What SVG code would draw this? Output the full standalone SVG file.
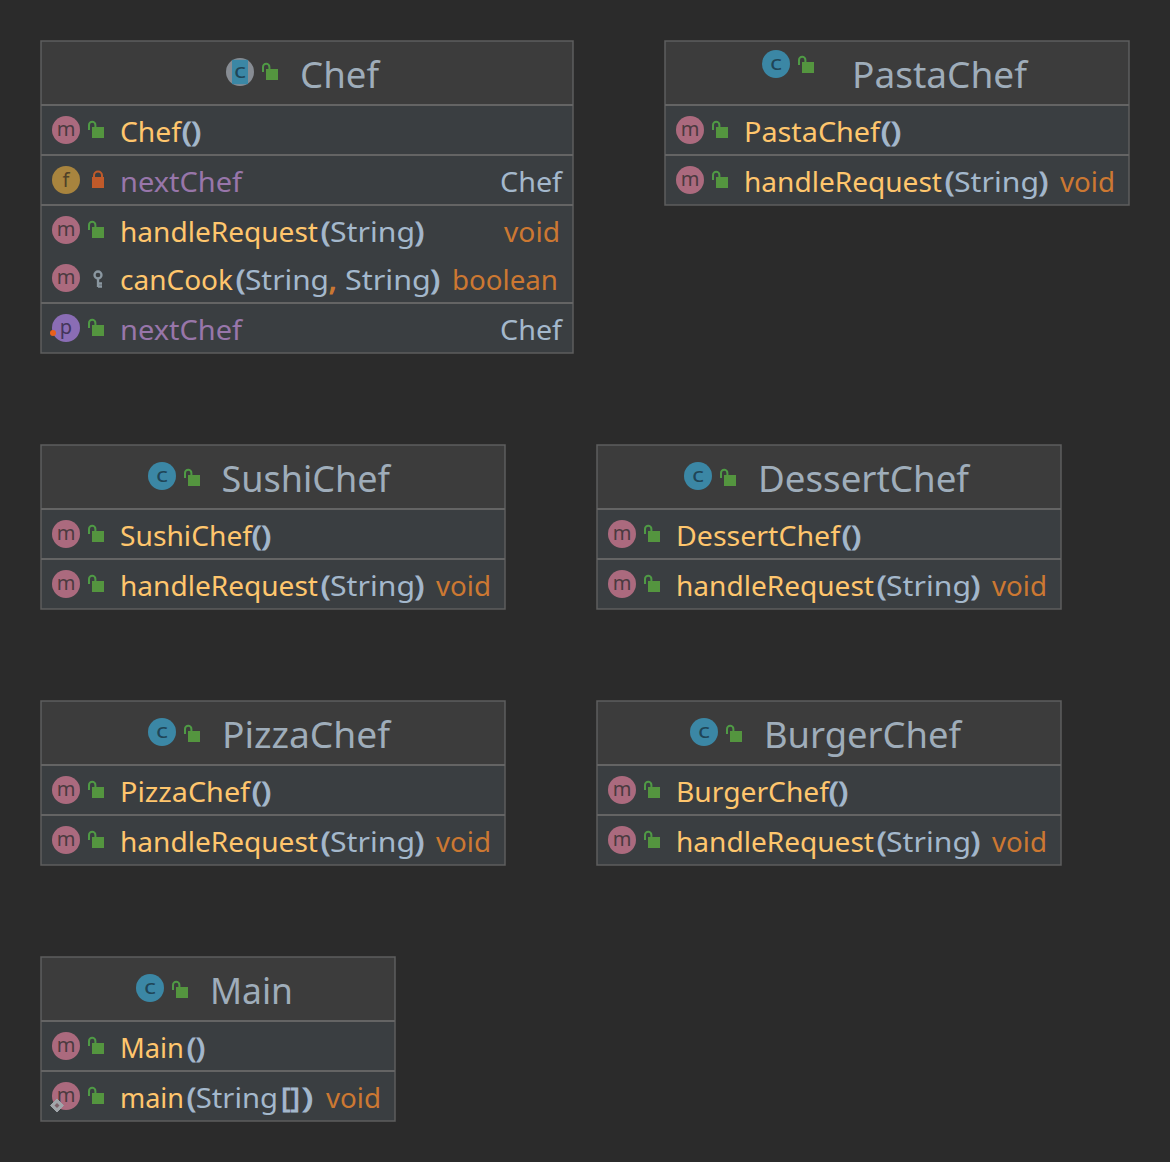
<svg xmlns="http://www.w3.org/2000/svg" width="1170" height="1162" viewBox="0 0 1170 1162">
<style>
text{font-family:"Noto Sans","Open Sans",sans-serif;font-size:28px;white-space:pre}
.box{fill:#3a3e41;stroke:#5e5e5e;stroke-width:1.500}
.head{fill:#3c3c3c}
.div{stroke:#646464;stroke-width:1.800}
.title{font-size:36px;fill:#9fadba}
.m{fill:#ffc66d}.t{fill:#a4b8cc}.r{fill:#cc7832}.f{fill:#9876aa}
.b{stroke:#a4b8cc;stroke-width:.9}
.rb{stroke:#cc7832;stroke-width:1.200}
.ic{font-size:20px;text-anchor:middle}
</style>
<defs>
<g id="pub"><path d="M-7 0V-5a3.200 3.200 0 0 1 6.400 0v3" fill="none" stroke="#4f9a45" stroke-width="2"/><rect x="-4" y="-3" width="12" height="11" fill="#54953f"/></g>
<g id="cls"><circle r="14" fill="#3b87a5"/><text class="ic" y="6" fill="#1f4557" textLength="12" lengthAdjust="spacingAndGlyphs">c</text></g>
<g id="mth"><circle r="14" fill="#ab6a7e"/><text class="ic" y="6" fill="#4b3a40">m</text></g>
</defs>
<rect width="1170" height="1162" fill="#2b2b2b"/>
<g id="connectors"/>

<g id="Chef">
<rect class="box" x="41" y="41" width="532" height="312"/>
<rect class="head" x="42" y="42" width="530" height="63"/>
<path class="div" d="M41 105H573M41 155H573M41 205H573M41 303H573"/>
<circle cx="240" cy="72" r="14" fill="#878c93"/><path d="M232 59.800h16v24.400h-16z" fill="#3b87a5"/><text class="ic" x="240" y="78" fill="#1f4557" textLength="12" lengthAdjust="spacingAndGlyphs">c</text>
<use href="#pub" x="270" y="72"/>
<text class="title" x="300" y="88" textLength="79" lengthAdjust="spacingAndGlyphs">Chef</text>
<use href="#mth" x="66" y="130"/><use href="#pub" x="96" y="130"/>
<text class="m" x="120" y="141.500" textLength="61" lengthAdjust="spacingAndGlyphs">Chef</text><text class="t b" x="182" y="141.500" textLength="19" lengthAdjust="spacingAndGlyphs">()</text>
<circle cx="66" cy="180" r="14" fill="#a8843e"/><text class="ic" x="66" y="187" fill="#4f4128">f</text>
<path d="M94 178v-2.500a4 4 0 0 1 8 0v2.500" fill="none" stroke="#c05a2a" stroke-width="2"/><rect x="92" y="177" width="12" height="11" fill="#c05a2a"/>
<text class="f" x="120" y="191.500" textLength="122" lengthAdjust="spacingAndGlyphs">nextChef</text>
<text class="t" x="500" y="191.500" textLength="62" lengthAdjust="spacingAndGlyphs">Chef</text>
<use href="#mth" x="66" y="230"/><use href="#pub" x="96" y="230"/>
<text class="m" x="120" y="241.500" textLength="198" lengthAdjust="spacingAndGlyphs">handleRequest</text><text class="t" x="321" y="241.500" textLength="103" lengthAdjust="spacingAndGlyphs"><tspan class="b">(</tspan>String<tspan class="b">)</tspan></text>
<text class="r" x="504" y="241.500" textLength="56" lengthAdjust="spacingAndGlyphs">void</text>
<use href="#mth" x="66" y="278"/>
<g fill="none" stroke="#8a97a0" stroke-width="2.300"><circle cx="98" cy="275" r="3.500"/><path d="M98 279V287M98 283.500H102M98 286.500H102"/></g>
<text class="m" x="120" y="289.500" textLength="113" lengthAdjust="spacingAndGlyphs">canCook</text>
<text class="t" x="236" y="289.500" textLength="93" lengthAdjust="spacingAndGlyphs"><tspan class="b">(</tspan>String</text><text class="r rb" x="329" y="289.500">,</text><text class="t" x="345" y="289.500" textLength="95" lengthAdjust="spacingAndGlyphs">String<tspan class="b">)</tspan></text>
<text class="r" x="452" y="289.500" textLength="106" lengthAdjust="spacingAndGlyphs">boolean</text>
<circle cx="66" cy="328" r="14" fill="#8a6db5"/><text class="ic" x="66" y="334" fill="#43355a">p</text><circle cx="53" cy="333" r="3" fill="#e8601c"/>
<use href="#pub" x="96" y="328"/>
<text class="f" x="120" y="339.500" textLength="122" lengthAdjust="spacingAndGlyphs">nextChef</text>
<text class="t" x="500" y="339.500" textLength="62" lengthAdjust="spacingAndGlyphs">Chef</text>
</g>

<g id="PastaChef">
<rect class="box" x="665" y="41" width="464" height="164"/>
<rect class="head" x="666" y="42" width="462" height="63"/>
<path class="div" d="M665 105H1129M665 155H1129"/>
<use href="#cls" x="776" y="64"/><use href="#pub" x="806" y="65"/>
<text class="title" x="852" y="88" textLength="175" lengthAdjust="spacingAndGlyphs">PastaChef</text>
<use href="#mth" x="690" y="130"/><use href="#pub" x="720" y="130"/>
<text class="m" x="744" y="141.500" textLength="136" lengthAdjust="spacingAndGlyphs">PastaChef</text><text class="t b" x="881" y="141.500" textLength="20" lengthAdjust="spacingAndGlyphs">()</text>
<use href="#mth" x="690" y="180"/><use href="#pub" x="720" y="180"/>
<text class="m" x="744" y="191.500" textLength="198" lengthAdjust="spacingAndGlyphs">handleRequest</text><text class="t" x="945" y="191.500" textLength="103" lengthAdjust="spacingAndGlyphs"><tspan class="b">(</tspan>String<tspan class="b">)</tspan></text>
<text class="r" x="1060" y="191.500" textLength="55" lengthAdjust="spacingAndGlyphs">void</text>
</g>

<g id="SushiChef">
<rect class="box" x="41" y="445" width="464" height="164"/>
<rect class="head" x="42" y="446" width="462" height="63"/>
<path class="div" d="M41 509H505M41 559H505"/>
<use href="#cls" x="162" y="476"/><use href="#pub" x="192" y="478"/>
<text class="title" x="221.500" y="492" textLength="168.500" lengthAdjust="spacingAndGlyphs">SushiChef</text>
<use href="#mth" x="66" y="534"/><use href="#pub" x="96" y="534"/>
<text class="m" x="120" y="545.500" textLength="132" lengthAdjust="spacingAndGlyphs">SushiChef</text><text class="t b" x="252" y="545.500" textLength="19" lengthAdjust="spacingAndGlyphs">()</text>
<use href="#mth" x="66" y="584"/><use href="#pub" x="96" y="584"/>
<text class="m" x="120" y="595.500" textLength="198" lengthAdjust="spacingAndGlyphs">handleRequest</text><text class="t" x="321" y="595.500" textLength="103" lengthAdjust="spacingAndGlyphs"><tspan class="b">(</tspan>String<tspan class="b">)</tspan></text>
<text class="r" x="436" y="595.500" textLength="55" lengthAdjust="spacingAndGlyphs">void</text>
</g>

<g id="DessertChef">
<rect class="box" x="597" y="445" width="464" height="164"/>
<rect class="head" x="598" y="446" width="462" height="63"/>
<path class="div" d="M597 509H1061M597 559H1061"/>
<use href="#cls" x="698" y="476"/><use href="#pub" x="728" y="478"/>
<text class="title" x="758" y="492" textLength="211" lengthAdjust="spacingAndGlyphs">DessertChef</text>
<use href="#mth" x="622" y="534"/><use href="#pub" x="652" y="534"/>
<text class="m" x="676" y="545.500" textLength="164" lengthAdjust="spacingAndGlyphs">DessertChef</text><text class="t b" x="842" y="545.500" textLength="19" lengthAdjust="spacingAndGlyphs">()</text>
<use href="#mth" x="622" y="584"/><use href="#pub" x="652" y="584"/>
<text class="m" x="676" y="595.500" textLength="198" lengthAdjust="spacingAndGlyphs">handleRequest</text><text class="t" x="877" y="595.500" textLength="103" lengthAdjust="spacingAndGlyphs"><tspan class="b">(</tspan>String<tspan class="b">)</tspan></text>
<text class="r" x="992" y="595.500" textLength="55" lengthAdjust="spacingAndGlyphs">void</text>
</g>

<g id="PizzaChef">
<rect class="box" x="41" y="701" width="464" height="164"/>
<rect class="head" x="42" y="702" width="462" height="63"/>
<path class="div" d="M41 765H505M41 815H505"/>
<use href="#cls" x="162" y="732"/><use href="#pub" x="192" y="734"/>
<text class="title" x="222" y="748" textLength="168" lengthAdjust="spacingAndGlyphs">PizzaChef</text>
<use href="#mth" x="66" y="790"/><use href="#pub" x="96" y="790"/>
<text class="m" x="120" y="801.500" textLength="130" lengthAdjust="spacingAndGlyphs">PizzaChef</text><text class="t b" x="252" y="801.500" textLength="19" lengthAdjust="spacingAndGlyphs">()</text>
<use href="#mth" x="66" y="840"/><use href="#pub" x="96" y="840"/>
<text class="m" x="120" y="851.500" textLength="198" lengthAdjust="spacingAndGlyphs">handleRequest</text><text class="t" x="321" y="851.500" textLength="103" lengthAdjust="spacingAndGlyphs"><tspan class="b">(</tspan>String<tspan class="b">)</tspan></text>
<text class="r" x="436" y="851.500" textLength="55" lengthAdjust="spacingAndGlyphs">void</text>
</g>

<g id="BurgerChef">
<rect class="box" x="597" y="701" width="464" height="164"/>
<rect class="head" x="598" y="702" width="462" height="63"/>
<path class="div" d="M597 765H1061M597 815H1061"/>
<use href="#cls" x="704" y="732"/><use href="#pub" x="734" y="734"/>
<text class="title" x="764" y="748" textLength="197" lengthAdjust="spacingAndGlyphs">BurgerChef</text>
<use href="#mth" x="622" y="790"/><use href="#pub" x="652" y="790"/>
<text class="m" x="676" y="801.500" textLength="153" lengthAdjust="spacingAndGlyphs">BurgerChef</text><text class="t b" x="829" y="801.500" textLength="19" lengthAdjust="spacingAndGlyphs">()</text>
<use href="#mth" x="622" y="840"/><use href="#pub" x="652" y="840"/>
<text class="m" x="676" y="851.500" textLength="198" lengthAdjust="spacingAndGlyphs">handleRequest</text><text class="t" x="877" y="851.500" textLength="103" lengthAdjust="spacingAndGlyphs"><tspan class="b">(</tspan>String<tspan class="b">)</tspan></text>
<text class="r" x="992" y="851.500" textLength="55" lengthAdjust="spacingAndGlyphs">void</text>
</g>

<g id="Main">
<rect class="box" x="41" y="957" width="354" height="164"/>
<rect class="head" x="42" y="958" width="352" height="63"/>
<path class="div" d="M41 1021H395M41 1071H395"/>
<use href="#cls" x="150" y="988"/><use href="#pub" x="180" y="990"/>
<text class="title" x="210" y="1004" textLength="83" lengthAdjust="spacingAndGlyphs">Main</text>
<use href="#mth" x="66" y="1046"/><use href="#pub" x="96" y="1046"/>
<text class="m" x="120" y="1057.500" textLength="64" lengthAdjust="spacingAndGlyphs">Main</text><text class="t b" x="187" y="1057.500" textLength="18" lengthAdjust="spacingAndGlyphs">()</text>
<use href="#mth" x="66" y="1096"/><use href="#pub" x="96" y="1096"/>
<path d="M57 1099l6.500 6.500-6.500 6.500-6.500-6.500z" fill="#a0a5aa" stroke="#a0a5aa" stroke-width="1"/><path d="M57 1103l2.500 2.500-2.500 2.500-2.500-2.500z" fill="#7a6068"/>
<text class="m" x="120" y="1107.500" textLength="64" lengthAdjust="spacingAndGlyphs">main</text>
<text class="t" x="187" y="1107.500" textLength="91" lengthAdjust="spacingAndGlyphs"><tspan class="b">(</tspan>String</text><text class="t b" x="281" y="1107.500" textLength="19" lengthAdjust="spacingAndGlyphs">[]</text><text class="t b" x="302" y="1107.500" textLength="11" lengthAdjust="spacingAndGlyphs">)</text>
<text class="r" x="326" y="1107.500" textLength="55" lengthAdjust="spacingAndGlyphs">void</text>
</g>
</svg>
